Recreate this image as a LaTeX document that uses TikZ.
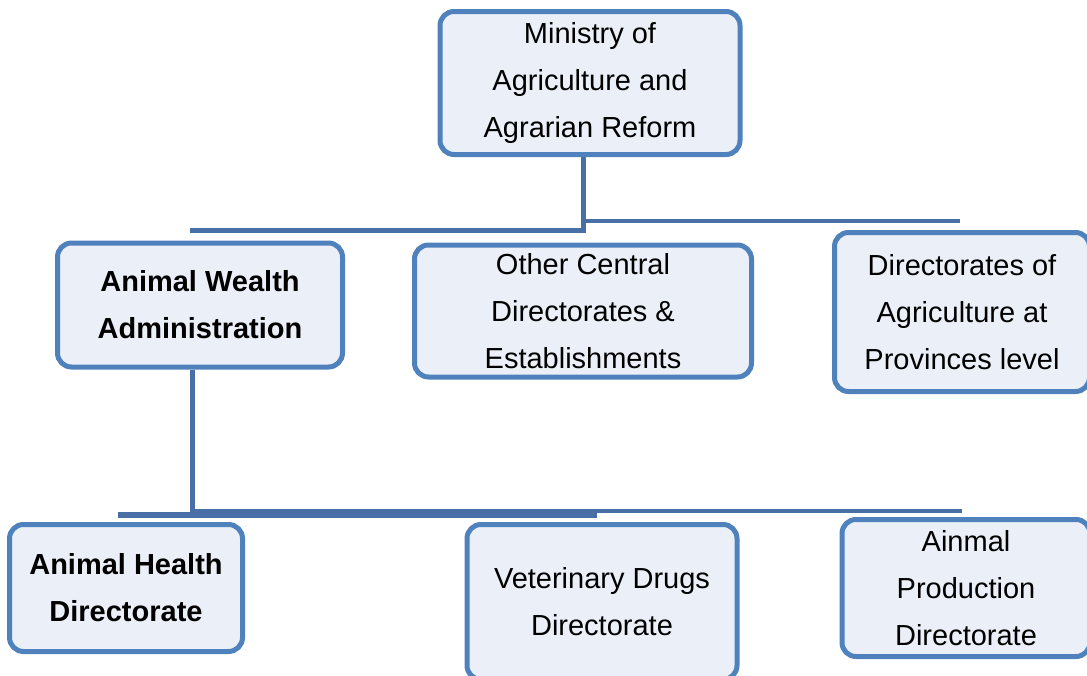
\documentclass[tikz,border=0pt]{standalone}
\usepackage{fontspec}
\setmainfont{Liberation Sans}
\usetikzlibrary{positioning,backgrounds,calc}
\definecolor{boxblue}{RGB}{79,129,189}
\definecolor{boxfill}{RGB}{235,240,248}
\definecolor{linkblue}{RGB}{72,112,166}
\tikzstyle{unit} = [
    draw=boxblue,
    fill=boxfill,
    line width=5pt,
    rounded corners=14pt,
    align=center,
    inner sep=0pt,
    font=\fontsize{29}{47}\selectfont
]
\tikzstyle{headunit} = [unit, font=\fontsize{29}{47}\selectfont\bfseries]
\tikzstyle{link} = [draw=linkblue, line width=5pt]

\begin{document}
\begin{tikzpicture}[x=1pt, y=-1pt]
\useasboundingbox (0,0) rectangle (1087,675);

% Ministry
\node[unit, minimum width=300pt, minimum height=143pt] (ministry) at (590,83) {Ministry of\\Agriculture and\\Agrarian Reform};

% Central level
\node[headunit, minimum width=285pt, minimum height=124pt] (wealth) at (200,305) {Animal Wealth\\Administration};
\node[unit, minimum width=337pt, minimum height=132pt] (central) at (583,311) {Other Central\\Directorates \&\\Establishments};
\node[unit, minimum width=255pt, minimum height=159pt] (provinces) at (962,312) {Directorates of\\Agriculture at\\Provinces level};

% Directorates under the administration
\node[headunit, minimum width=233pt, minimum height=127pt] (health) at (126,588) {Animal Health\\Directorate};
\node[unit, minimum width=270pt, minimum height=155pt] (drugs) at (602,602) {Veterinary Drugs\\Directorate};
\node[unit, minimum width=248pt, minimum height=137pt] (production) at (966,588) {Ainmal\\Production\\Directorate};

% Connectors (behind the boxes)
\coordinate (hub1) at (583,230);
\coordinate (hub1 left) at (190,230);
\coordinate (hub1 right) at (960,221);
\coordinate (hub2) at (192,515);
\coordinate (hub2 left) at (118,515);
\coordinate (hub2 mid) at (597,515);
\coordinate (hub2 right) at (962,511);
\begin{scope}[on background layer]
\draw[link] (ministry.south -| hub1) -- (hub1) -- (hub1 left);
\draw[link, line width=4pt] (hub1 |- hub1 right) -- (hub1 right);
\draw[link] (wealth.south -| hub2) -- (hub2);
\draw[link, line width=6pt] (hub2 left) -- (hub2 mid);
\draw[link, line width=4pt] (hub2 |- hub2 right) -- (hub2 right);
\end{scope}
\end{tikzpicture}
\end{document}
